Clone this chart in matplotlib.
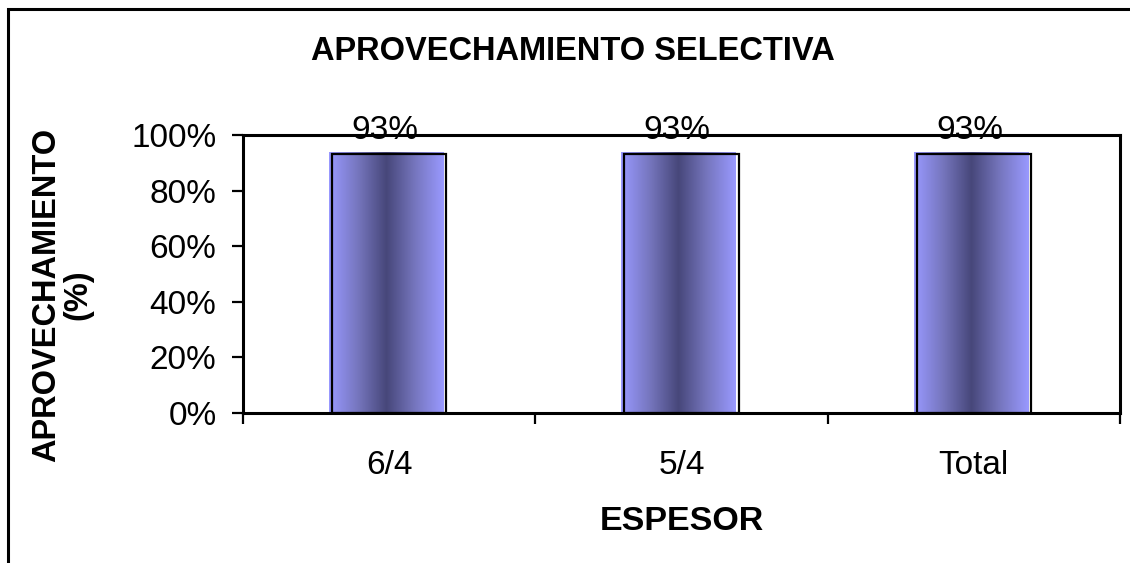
import numpy as np
import matplotlib.pyplot as plt
from matplotlib.patches import Rectangle
from matplotlib.colors import LinearSegmentedColormap

categorias = ["6/4", "5/4", "Total"]
aprovechamiento = [0.93, 0.93, 0.93]
etiquetas = ["93%", "93%", "93%"]
yticks = [0.0, 0.2, 0.4, 0.6, 0.8, 1.0]
ytick_labels = ["0%", "20%", "40%", "60%", "80%", "100%"]

plt.rcParams['font.family'] = ['Liberation Sans', 'DejaVu Sans']

fig = plt.figure(figsize=(11.3, 5.63), dpi=100)
ax = fig.add_axes([243/1130, 150/563, 877/1130, 278/563])

# outer chart frame (only left and top visible in the picture)
fig.patches.append(Rectangle((8/1130, -0.2), 1.5, 1.2 - 9/563, transform=fig.transFigure,
                             fill=False, edgecolor='black', linewidth=2.2, clip_on=False))

cmap = LinearSegmentedColormap.from_list("barra", ["#9999FF", "#7676BE", "#47477A", "#7676BE", "#9999FF"])
grad = np.linspace(0, 1, 256).reshape(1, -1)

ancho = 0.39
dx = 3 / 292.3   # the fill sits a few px left/up of the outline
dy = 2 / 278
x = np.arange(len(categorias))
for xi, v, lab in zip(x, aprovechamiento, etiquetas):
    ax.imshow(grad, cmap=cmap, aspect='auto', extent=(xi - ancho/2 - dx, xi + ancho/2 - dx, 0.002, v + dy),
              zorder=2, interpolation='bilinear')
    ax.add_patch(Rectangle((xi - ancho/2, 0), ancho, v, fill=False, edgecolor='black', linewidth=1.6, zorder=3))
    ax.annotate(lab, (xi - 0.015, v), xytext=(0, 6), textcoords='offset points',
                ha='center', va='bottom', fontsize=24, zorder=4, annotation_clip=False)

ax.set_xlim(-0.5, 2.5)
ax.set_ylim(0, 1)

ax.set_yticks(yticks)
ax.set_yticklabels(ytick_labels)
ax.set_xticks([-0.5, 0.5, 1.5, 2.5])
ax.set_xticklabels([])
ax.set_xticks(x, minor=True)
ax.set_xticklabels(categorias, minor=True)
ax.tick_params(axis='y', which='major', direction='out', length=8, width=1.6, pad=11, labelsize=24)
ax.tick_params(axis='x', which='major', direction='out', length=8, width=1.6)
ax.tick_params(axis='x', which='minor', length=0, pad=27, labelsize=24)

for s in ax.spines.values():
    s.set_linewidth(2.2)

ax.set_xlabel("ESPESOR", fontsize=24.5, fontweight='bold', labelpad=18)
fig.text(0.055, 0.477, "APROVECHAMIENTO\n(%)", rotation=90, ha='center', va='center',
         fontsize=23.5, fontweight='bold', linespacing=1.0)
fig.text(0.507, 0.908, "APROVECHAMIENTO SELECTIVA", ha='center', va='center',
         fontsize=23.5, fontweight='bold')

fig.savefig("out.png", dpi=100)
